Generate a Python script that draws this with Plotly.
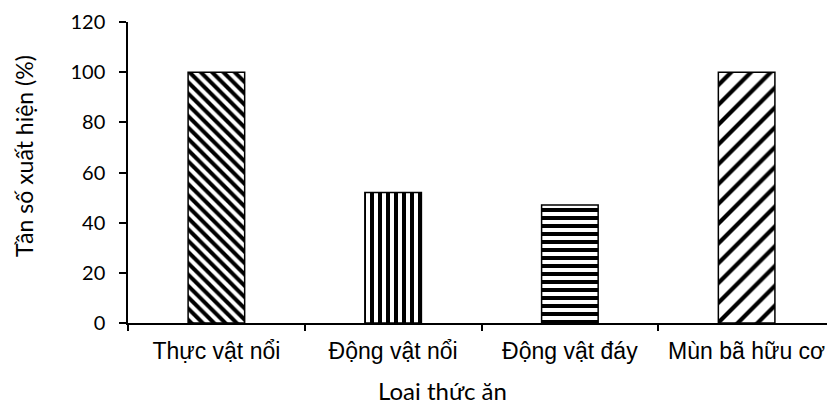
import plotly.graph_objects as go

categories = ["Thực vật nổi", "Động vật nổi", "Động vật đáy", "Mùn bã hữu cơ"]
values = [100, 52, 47, 100]
y_ticks = [0, 20, 40, 60, 80, 100, 120]
x_title = "Loai thức ăn"
y_title = "Tần số xuất hiện (%)"

shapes = ["\\", "|", "-", "/"]
sizes = [8, 8, 8, 14]
solidities = [0.5, 0.5, 0.5, 0.3]

fig = go.Figure(go.Bar(
    x=categories, y=values, width=0.32,
    marker=dict(
        color="white",
        line=dict(color="black", width=1.5),
        pattern=dict(shape=shapes, size=sizes, solidity=solidities,
                     fgcolor="black", bgcolor="white", fillmode="replace"),
    ),
))

# the page adds an 8px body margin; figure is sized so it fits the 835x405 window
fig.update_layout(
    width=827, height=397,
    margin=dict(l=120, r=0, t=14, b=82),
    plot_bgcolor="white", paper_bgcolor="white",
    showlegend=False,
    xaxis=dict(
        type="category", showline=True, linecolor="black", linewidth=1.5,
        ticks="outside", tickson="boundaries", ticklen=6, tickcolor="black", tickwidth=1.5,
        tickfont=dict(family="Liberation Sans", size=23, color="black"),
        ticklabelstandoff=7,
        showgrid=False, zeroline=False, automargin=False,
    ),
    yaxis=dict(
        range=[0, 120], tickvals=y_ticks, showline=True, linecolor="black", linewidth=1.5,
        ticks="outside", ticklen=7, tickcolor="black", tickwidth=1.5,
        tickfont=dict(family="Lato", size=20, color="black"),
        ticklabelstandoff=10,
        showgrid=False, zeroline=False, automargin=False,
    ),
    annotations=[
        dict(text=x_title, xref="paper", yref="paper", x=(442 - 128) / 707, y=(323 - 390) / 301,
             xanchor="center", yanchor="middle", showarrow=False,
             font=dict(family="Lato", size=24, color="black")),
        dict(text=y_title, xref="paper", yref="paper", x=(24 - 128) / 707, y=(323 - 156) / 301,
             xanchor="center", yanchor="middle", showarrow=False, textangle=-90,
             font=dict(family="Lato", size=23, color="black")),
    ],
)

fig.write_html("out.html")
